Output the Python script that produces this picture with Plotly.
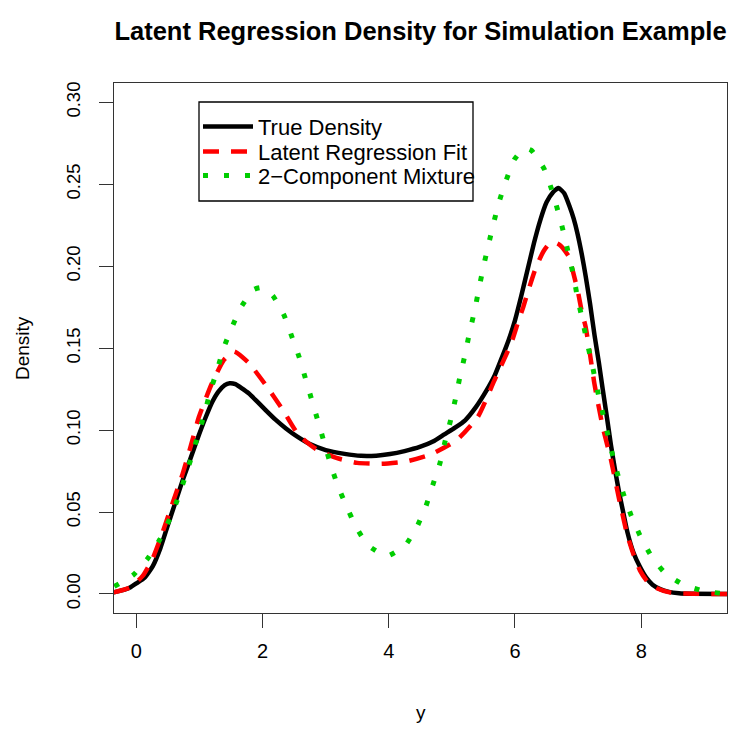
import plotly.graph_objects as go

# ---- data ----
x_true = [-0.36, -0.2, -0.1, 0.0, 0.13, 0.26, 0.38, 0.49, 0.61, 0.73, 0.86, 0.99, 1.1, 1.2,
          1.3, 1.4, 1.48, 1.57, 1.66, 1.78, 1.9, 2.04, 2.2, 2.37, 2.55, 2.75, 3.0, 3.3,
          3.56, 3.8, 4.02, 4.25, 4.49, 4.7, 4.88, 5.05, 5.21, 5.38, 5.54, 5.68, 5.80,
          5.90, 6.00, 6.10, 6.20, 6.30, 6.40, 6.50, 6.60, 6.69, 6.78, 6.86, 6.93, 6.99,
          7.06, 7.12, 7.19, 7.26, 7.33, 7.39, 7.46, 7.52, 7.58, 7.65, 7.72, 7.78, 7.88,
          7.98, 8.08, 8.18, 8.30, 8.44, 8.60, 8.8, 9.37]
y_true = [0.001, 0.0025, 0.004, 0.0065, 0.010, 0.017, 0.028, 0.041, 0.055, 0.069, 0.083,
          0.097, 0.108, 0.117, 0.1235, 0.1275, 0.1286, 0.1280, 0.1258, 0.1225, 0.118,
          0.1125, 0.1065, 0.1010, 0.096, 0.0915, 0.0878, 0.0855, 0.0843, 0.0844, 0.0854,
          0.0872, 0.0897, 0.0930, 0.0974, 0.1015, 0.106, 0.114, 0.1236, 0.1335, 0.145,
          0.155, 0.167, 0.182, 0.198, 0.214, 0.228, 0.239, 0.245, 0.2477, 0.2445, 0.237,
          0.229, 0.220, 0.207, 0.194, 0.177, 0.158, 0.141, 0.125, 0.107, 0.091, 0.077,
          0.062, 0.049, 0.038, 0.025, 0.0166, 0.010, 0.0057, 0.003, 0.0013, 0.0005,
          0.0002, 0.0]

x_fit = [-0.36, -0.1, 0.1, 0.25, 0.40, 0.56, 0.73, 0.86, 0.99, 1.19, 1.39, 1.55, 1.78,
         2.04, 2.31, 2.57, 2.84, 3.17, 3.50, 3.89, 4.29, 4.68, 5.08, 5.41, 5.67, 5.94,
         6.05, 6.13, 6.21, 6.33, 6.45, 6.55, 6.63, 6.71, 6.85, 6.93, 7.00, 7.06, 7.12,
         7.19, 7.26, 7.39, 7.52, 7.65, 7.78, 7.88, 7.98, 8.10, 8.25, 8.45, 8.64, 9.37]
y_fit = [0.001, 0.004, 0.011, 0.021, 0.036, 0.054, 0.073, 0.090, 0.108, 0.128, 0.143,
         0.148, 0.141, 0.128, 0.113, 0.097, 0.0886, 0.083, 0.080, 0.0795, 0.081, 0.0854,
         0.094, 0.108, 0.130, 0.153, 0.166, 0.175, 0.185, 0.199, 0.209, 0.214, 0.2145,
         0.213, 0.206, 0.195, 0.184, 0.172, 0.163, 0.146, 0.128, 0.102, 0.082, 0.058,
         0.036, 0.024, 0.0144, 0.0075, 0.0035, 0.0010, 0.0003, 0.0]

x_mix = [-0.35, -0.05, 0.18, 0.37, 0.53, 0.66, 0.77, 0.88, 0.98, 1.08, 1.17, 1.28, 1.38,
         1.51, 1.66, 1.86, 1.98, 2.16, 2.34, 2.46, 2.58, 2.68, 2.78, 2.88, 2.98, 3.08,
         3.19, 3.33, 3.48, 3.67, 3.97, 4.26, 4.45, 4.59, 4.70, 4.81, 4.89, 4.98, 5.06,
         5.13, 5.21, 5.28, 5.36, 5.43, 5.50, 5.58, 5.66, 5.75, 5.86, 5.99, 6.15, 6.26,
         6.46, 6.58, 6.68, 6.77, 6.85, 6.93, 6.99, 7.07, 7.14, 7.22, 7.29, 7.37, 7.45,
         7.53, 7.62, 7.72, 7.84, 7.98, 8.15, 8.37, 8.67, 9.00, 9.37]
y_mix = [0.0046, 0.0116, 0.0216, 0.0332, 0.0459, 0.0585, 0.0712, 0.0843, 0.0974, 0.110,
         0.1236, 0.1365, 0.1498, 0.1624, 0.1751, 0.1858, 0.187, 0.1821, 0.1701, 0.1574,
         0.1445, 0.1314, 0.1183, 0.1052, 0.0919, 0.0788, 0.0662, 0.0535, 0.0410, 0.0297,
         0.0231, 0.0297, 0.0413, 0.0537, 0.0668, 0.0797, 0.0928, 0.1061, 0.1197, 0.1330,
         0.1463, 0.1596, 0.1729, 0.1865, 0.1998, 0.2131, 0.2262, 0.2395, 0.2524, 0.2651,
         0.272, 0.2707, 0.2596, 0.2469, 0.2338, 0.2205, 0.2072, 0.1939, 0.1808, 0.1672,
         0.1539, 0.1406, 0.1271, 0.1138, 0.1007, 0.0873, 0.0740, 0.0609, 0.0480, 0.0358,
         0.0238, 0.0131, 0.0057, 0.0017, 0.0]

x_ticks = [0, 2, 4, 6, 8]
y_ticks = [0.00, 0.05, 0.10, 0.15, 0.20, 0.25, 0.30]
y_tick_text = ["0.00", "0.05", "0.10", "0.15", "0.20", "0.25", "0.30"]
series_names = ["True Density", "Latent Regression Fit", "2\u2212Component Mixture"]

FONT = "Liberation Sans, Arial, Helvetica, sans-serif"

# page offsets (the html body has an 8px margin)
PLOT_L, PLOT_R, PLOT_T, PLOT_B = 114, 727, 83, 613
PW, PH = PLOT_R - PLOT_L, PLOT_B - PLOT_T


def px(xp):
    return (xp - PLOT_L) / PW


def py(yp):
    return (PLOT_B - yp) / PH


fig = go.Figure()
fig.add_trace(go.Scatter(x=x_true, y=y_true, mode="lines", name=series_names[0],
                         legend="legend",
                         line=dict(color="#000000", width=4.5, shape="spline", smoothing=0.5)))
fig.add_trace(go.Scatter(x=x_fit, y=y_fit, mode="lines", name=series_names[1],
                         legend="legend2",
                         line=dict(color="#FF0000", width=4.5, dash="16px,12px",
                                   shape="spline", smoothing=0.5)))
fig.add_trace(go.Scatter(x=x_mix, y=y_mix, mode="lines", name=series_names[2],
                         legend="legend3",
                         line=dict(color="#00CD00", width=5, dash="5px,16px",
                                   shape="spline", smoothing=0.5)))

leg_common = dict(xanchor="left", yanchor="middle", bgcolor="rgba(0,0,0,0)",
                  borderwidth=0, font=dict(size=22, family=FONT, color="#000000"),
                  itemwidth=50)
row_y = [126.7, 151.7, 175.7]

fig.update_layout(
    width=750, height=732,
    margin=dict(l=PLOT_L - 8, r=750 - PLOT_R + 8, t=PLOT_T - 8, b=732 - PLOT_B + 8),
    paper_bgcolor="white", plot_bgcolor="white",
    font=dict(family=FONT, color="#000000", size=19),
    title=dict(text="<b>Latent Regression Density for Simulation Example</b>",
               x=0.5, xref="paper", xanchor="center",
               y=1 - 23 / 732, yref="container", yanchor="middle",
               font=dict(size=25.5, family=FONT, color="#000000")),
    showlegend=True,
    legend=dict(x=px(198), y=py(row_y[0]), **leg_common),
    legend2=dict(x=px(198), y=py(row_y[1]), **leg_common),
    legend3=dict(x=px(198), y=py(row_y[2]), **leg_common),
)
# legend frame
fig.add_shape(type="rect", xref="paper", yref="paper",
              x0=px(199), x1=px(473), y0=py(201), y1=py(102),
              line=dict(color="#000000", width=1.3), fillcolor="rgba(0,0,0,0)", layer="above")

fig.update_xaxes(range=[-0.355, 9.36], tickvals=x_ticks, ticktext=[str(v) for v in x_ticks],
                 showgrid=False, zeroline=False, showline=True, mirror=True,
                 linecolor="#333333", linewidth=1.3,
                 ticks="outside", ticklen=14, tickwidth=1.3, tickcolor="#333333",
                 tickfont=dict(size=20), ticklabelstandoff=6)
fig.update_yaxes(range=[-0.0116, 0.3118], tickvals=y_ticks, ticktext=y_tick_text,
                 showgrid=False, zeroline=False, showline=True, mirror=True,
                 linecolor="#333333", linewidth=1.3,
                 ticks="outside", ticklen=14, tickwidth=1.3, tickcolor="#333333",
                 tickangle=-90, tickfont=dict(size=18.5), ticklabelstandoff=11)

fig.add_annotation(text="Density", textangle=-90, xref="paper", yref="paper",
                   x=px(22), y=0.5, xanchor="center", yanchor="middle",
                   showarrow=False, font=dict(size=19, family=FONT))
fig.add_annotation(text="y", xref="paper", yref="paper",
                   x=0.5, y=py(712), xanchor="center", yanchor="middle",
                   showarrow=False, font=dict(size=19, family=FONT))

fig.write_html("out.html")
